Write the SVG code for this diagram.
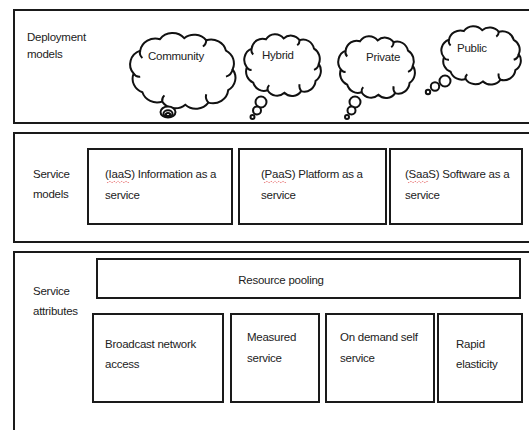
<svg xmlns="http://www.w3.org/2000/svg" xmlns:xlink="http://www.w3.org/1999/xlink" width="529" height="430" viewBox="0 0 529 430">
<style>
.panel{fill:#fff;stroke:#1a1a1a;stroke-width:2}
.box{fill:#fff;stroke:#1a1a1a;stroke-width:2}
.cl{fill:#fff;stroke:#111;stroke-width:2}
.t{font-family:"Liberation Sans",Arial,sans-serif;font-size:11.5px;letter-spacing:-0.25px;fill:#222}
.sp{fill:none;stroke:#e04040;stroke-width:0.8;stroke-dasharray:1.2 1}
</style>
<defs>
<path id="cloudp" vector-effect="non-scaling-stroke" d="M6,38 A14,14 0 0 1 12,16 A14,14 0 0 1 30,5 A14,14 0 0 1 52,4 A14,14 0 0 1 72,6 A14,14 0 0 1 90,16 A14,14 0 0 1 96,34 A14,14 0 0 1 92,54 A14,14 0 0 1 74,66 A14,14 0 0 1 53,68 A14,14 0 0 1 32,65 A14,14 0 0 1 14,56 A14,14 0 0 1 6,38 Z"/>
<path id="curls" vector-effect="non-scaling-stroke" fill="none" d="M12,16 A7,7 0 0 0 14,23 M72,6 A7,7 0 0 1 69,12 M96,34 A9,9 0 0 1 90,41 M74,66 A9,9 0 0 1 72,58 M32,65 A7,7 0 0 1 34,59 M6,38 A6,6 0 0 0 12,41"/>
</defs>

<g id="panel-deployment">
<rect class="panel" x="14" y="10" width="530" height="113"/>
<text class="t" x="27" y="41">Deployment</text>
<text class="t" x="27" y="58">models</text>
</g>

<g id="cloud-community">
<g transform="translate(127,34) scale(1.1,1.04)"><use href="#cloudp" class="cl"/><use href="#curls" class="cl" style="fill:none"/></g>
<ellipse class="cl" cx="168" cy="112" rx="7.5" ry="5.5"/>
<ellipse class="cl" cx="168" cy="113.5" rx="4.5" ry="3.2"/>
<ellipse class="cl" cx="168" cy="114.5" rx="2.2" ry="1.5"/>
<text class="t" x="148" y="60">Community</text>
</g>

<g id="cloud-hybrid">
<g transform="translate(242,35) scale(0.8,0.85)"><use href="#cloudp" class="cl"/><use href="#curls" class="cl" style="fill:none"/></g>
<circle class="cl" cx="261" cy="102" r="5.5"/>
<circle class="cl" cx="257" cy="110.5" r="4"/>
<circle class="cl" cx="252.5" cy="117" r="2"/>
<text class="t" x="262" y="59">Hybrid</text>
</g>

<g id="cloud-private">
<g transform="translate(336,37) scale(0.8,0.85)"><use href="#cloudp" class="cl"/><use href="#curls" class="cl" style="fill:none"/></g>
<circle class="cl" cx="355" cy="102" r="5.5"/>
<circle class="cl" cx="351.5" cy="110.5" r="4"/>
<circle class="cl" cx="347" cy="117" r="2"/>
<text class="t" x="366" y="61">Private</text>
</g>

<g id="cloud-public">
<g transform="translate(439,27) scale(0.83,0.8)"><use href="#cloudp" class="cl"/><use href="#curls" class="cl" style="fill:none"/></g>
<circle class="cl" cx="445" cy="81" r="5.5"/>
<circle class="cl" cx="435" cy="86.5" r="4.2"/>
<circle class="cl" cx="428" cy="92" r="2.2"/>
<text class="t" x="457" y="52">Public</text>
</g>

<g id="panel-service-models">
<rect class="panel" x="14" y="133" width="530" height="109"/>
<text class="t" x="33" y="178">Service</text>
<text class="t" x="33" y="198">models</text>
</g>

<g id="node-iaas">
<rect class="box" x="88" y="149" width="144" height="75"/>
<text class="t" x="105" y="178">(IaaS) Information as a</text>
<text class="t" x="105" y="199">service</text>
<path class="sp" d="M107,182 q1,1.5 2,0 t2,0 t2,0 t2,0 t2,0 t2,0 t2,0 t2,0 t2,0 t2,0 t2,0"/>
</g>

<g id="node-paas">
<rect class="box" x="239" y="149" width="147" height="75"/>
<text class="t" x="261" y="178">(PaaS) Platform as a</text>
<text class="t" x="261" y="199">service</text>
<path class="sp" d="M264,182 q1,1.5 2,0 t2,0 t2,0 t2,0 t2,0 t2,0 t2,0 t2,0 t2,0 t2,0 t2,0"/>
</g>

<g id="node-saas">
<rect class="box" x="390" y="149" width="132" height="75"/>
<text class="t" x="405" y="178">(SaaS) Software as a</text>
<text class="t" x="405" y="199">service</text>
<path class="sp" d="M408,182 q1,1.5 2,0 t2,0 t2,0 t2,0 t2,0 t2,0 t2,0 t2,0 t2,0 t2,0"/>
</g>

<g id="panel-service-attributes">
<rect class="panel" x="14" y="252" width="530" height="190"/>
<text class="t" x="33" y="295">Service</text>
<text class="t" x="33" y="315">attributes</text>
</g>

<g id="node-resource-pooling">
<rect class="box" x="97" y="259" width="423" height="39"/>
<text class="t" x="281" y="284" text-anchor="middle">Resource pooling</text>
</g>

<g id="node-broadcast">
<rect class="box" x="93" y="314" width="130" height="88"/>
<text class="t" x="105" y="348">Broadcast network</text>
<text class="t" x="105" y="368">access</text>
</g>

<g id="node-measured">
<rect class="box" x="231" y="314" width="88" height="88"/>
<text class="t" x="247" y="341">Measured</text>
<text class="t" x="247" y="362">service</text>
</g>

<g id="node-on-demand">
<rect class="box" x="326" y="314" width="108" height="88"/>
<text class="t" x="340" y="341">On demand self</text>
<text class="t" x="340" y="362">service</text>
</g>

<g id="node-rapid">
<rect class="box" x="438" y="314" width="84" height="88"/>
<text class="t" x="456" y="348">Rapid</text>
<text class="t" x="456" y="368">elasticity</text>
</g>

<g id="connectors"></g>
</svg>
